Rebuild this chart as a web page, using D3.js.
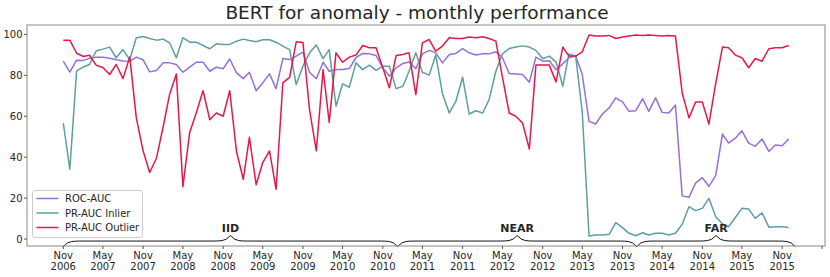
<!DOCTYPE html>
<html>
<head>
<meta charset="utf-8">
<script src="https://d3js.org/d3.v7.min.js"></script>
<style>
  body { margin: 0; background: #fff; }
  text { font-family: "DejaVu Sans", sans-serif; fill: #262626; }
</style>
</head>
<body>
<script>
"use strict";

// months run Nov 2006 .. Dec 2015
var firstMonth = new Date(2006, 10, 1),
    lastMonth = new Date(2015, 11, 1);

var rocAuc = [
  87.0, 81.6, 87.4, 87.3, 88.3, 88.9, 88.8, 88.4, 87.6, 87.0,
  86.9, 88.9, 87.6, 81.7, 82.4, 86.1, 86.1, 85.3, 81.5, 84.0,
  86.4, 86.4, 82.0, 84.0, 83.2, 88.0, 81.2, 78.4, 81.5, 72.5,
  76.3, 80.7, 73.5, 88.2, 87.7, 89.4, 91.3, 81.5, 78.3, 86.4,
  82.0, 82.8, 82.8, 83.3, 88.6, 90.7, 90.5, 89.7, 83.7, 79.6,
  83.7, 85.8, 86.5, 83.3, 90.5, 92.2, 91.0, 86.1, 90.2, 90.7,
  93.0, 91.0, 89.9, 90.5, 90.5, 91.5, 88.6, 80.9, 80.7, 80.4,
  76.6, 88.9, 86.9, 87.1, 82.8, 85.6, 88.6, 89.4, 80.4, 57.5,
  56.2, 61.1, 64.1, 69.0, 67.0, 62.4, 62.7, 68.6, 62.4, 69.0,
  61.9, 61.6, 65.5, 21.1, 20.4, 27.3, 30.0, 25.7, 31.0, 51.3,
  46.9, 49.3, 52.9, 46.9, 45.3, 48.9, 42.8, 46.0, 45.6, 48.9
];

var prAucInlier = [
  56.7, 34.2, 82.2, 84.1, 85.3, 92.0, 92.8, 93.8, 88.6, 92.6,
  87.7, 98.4, 99.0, 98.0, 97.2, 97.7, 95.9, 88.6, 98.4, 96.2,
  96.2, 94.6, 93.0, 95.4, 95.1, 95.1, 96.7, 97.7, 97.0, 96.4,
  97.4, 97.4, 96.2, 94.3, 92.6, 75.5, 84.5, 91.0, 94.8, 88.2,
  92.6, 64.9, 75.8, 74.2, 86.1, 82.8, 85.0, 82.4, 84.5, 84.5,
  73.5, 74.7, 82.0, 91.0, 81.5, 80.1, 89.9, 70.9, 61.6, 67.3,
  79.1, 61.1, 62.7, 61.6, 68.1, 82.0, 90.5, 93.1, 93.8, 94.4,
  93.8, 92.2, 88.1, 89.4, 86.6, 74.7, 90.5, 89.4, 62.0, 1.5,
  2.0, 2.0, 2.3, 8.0, 5.6, 2.8, 1.6, 3.1, 2.0, 2.8,
  2.8, 2.0, 2.8, 7.2, 15.8, 13.9, 15.0, 19.9, 10.9, 7.4,
  6.0, 10.5, 15.0, 14.7, 10.1, 12.8, 5.8, 6.0, 6.0, 5.6
];

var prAucOutlier = [
  97.2, 97.2, 90.8, 89.2, 89.8, 84.9, 83.8, 80.4, 85.3, 78.4,
  89.0, 59.2, 43.1, 32.5, 39.5, 55.0, 70.6, 80.7, 25.6, 52.1,
  61.6, 72.5, 58.3, 61.6, 60.0, 72.5, 42.8, 29.2, 49.7, 26.5,
  37.4, 43.1, 24.3, 76.3, 79.0, 96.4, 96.0, 63.2, 43.1, 82.8,
  57.0, 91.0, 86.4, 88.9, 89.9, 94.6, 93.5, 93.5, 83.7, 73.9,
  89.7, 90.2, 91.0, 70.6, 95.9, 97.5, 91.8, 94.3, 98.4, 98.0,
  98.0, 98.7, 98.4, 98.9, 98.0, 96.7, 79.1, 61.6, 60.0, 56.7,
  44.0, 85.0, 85.0, 85.0, 76.8, 93.8, 89.4, 89.4, 91.5, 99.7,
  99.2, 99.2, 99.5, 98.0, 98.7, 99.2, 99.7, 99.5, 99.7, 99.5,
  99.2, 99.5, 99.2, 71.4, 59.2, 67.0, 67.0, 56.2, 76.0, 93.8,
  93.5, 89.9, 88.6, 83.7, 88.2, 86.9, 93.0, 93.5, 93.5, 94.6
];

var seriesNames = ["ROC-AUC", "PR-AUC Inlier", "PR-AUC Outlier"];
var seriesColors = ["#9370DB", "#5F9EA0", "#E8174A"];

var yTicks = [0, 20, 40, 60, 80, 100];
var xTickLabels = [
  "Nov 2006", "May 2007", "Nov 2007", "May 2008", "Nov 2008", "May 2009",
  "Nov 2009", "May 2010", "Nov 2010", "May 2011", "Nov 2011", "May 2012",
  "Nov 2012", "May 2013", "Nov 2013", "May 2014", "Nov 2014", "May 2015",
  "Nov 2015"
];

var regions = [
  { label: "IID",  start: "2006-11-01", end: "2011-01-08" },
  { label: "NEAR", start: "2011-01-08", end: "2014-01-05" },
  { label: "FAR",  start: "2014-01-05", end: "2015-12-31" }
];

var width = 830, height = 277;
var plot = { left: 27, right: 825, top: 25, bottom: 246 };

var months = d3.timeMonth.range(firstMonth, d3.timeMonth.offset(lastMonth, 1));
var span = lastMonth - firstMonth;

var x = d3.scaleTime()
  .domain([new Date(+firstMonth - 0.05 * span), new Date(+lastMonth + 0.05 * span)])
  .range([plot.left, plot.right]);

var y = d3.scaleLinear()
  .domain([-3.4, 104.6])
  .range([plot.bottom, plot.top]);

var svg = d3.select("body").append("svg")
  .attr("width", width)
  .attr("height", height);

svg.append("text")
  .attr("x", 417)
  .attr("y", 19)
  .attr("text-anchor", "middle")
  .style("font-size", "18.5px")
  .text("BERT for anomaly - monthly performance");

// lines
var line = d3.line()
  .x(function (d, i) { return x(months[i]); })
  .y(function (d) { return y(d); });

[rocAuc, prAucInlier, prAucOutlier].forEach(function (vals, k) {
  svg.append("path")
    .datum(vals)
    .attr("fill", "none")
    .attr("stroke", seriesColors[k])
    .attr("stroke-width", 1.5)
    .attr("stroke-linejoin", "round")
    .attr("d", line);
});

// braces (sigmoid curly brace, tip up)
var ySpan = y.domain()[1] - y.domain()[0];
var braceBase = -5.3;
var xSpanAll = plot.right - plot.left;

regions.forEach(function (r) {
  var x0 = x(d3.isoParse(r.start)), x1 = x(d3.isoParse(r.end));
  var res = Math.floor((x1 - x0) / xSpanAll * 100) * 2 + 1;
  var beta = 300 / xSpanAll;
  var xs = d3.range(res).map(function (i) { return x0 + (x1 - x0) * i / (res - 1); });
  var half = xs.slice(0, Math.floor(res / 2) + 1);
  var xh0 = half[0], xh1 = half[half.length - 1];
  var yh = half.map(function (v) {
    return 1 / (1 + Math.exp(-beta * (v - xh0))) + 1 / (1 + Math.exp(-beta * (v - xh1)));
  });
  var ys = yh.concat(yh.slice(0, -1).reverse());
  var pts = xs.map(function (v, i) {
    return [v, y(braceBase + (0.05 * ys[i] - 0.01) * ySpan)];
  });
  svg.append("path")
    .attr("d", d3.line()(pts))
    .attr("fill", "none")
    .attr("stroke", "#111")
    .attr("stroke-width", 1);
  svg.append("text")
    .attr("x", (x0 + x1) / 2)
    .attr("y", y(braceBase + 0.07 * ySpan) - 2.6)
    .attr("text-anchor", "middle")
    .style("font-size", "11px")
    .style("font-weight", "bold")
    .text(r.label);
});

// frame
svg.append("rect")
  .attr("x", plot.left)
  .attr("y", plot.top)
  .attr("width", plot.right - plot.left)
  .attr("height", plot.bottom - plot.top)
  .attr("fill", "none")
  .attr("stroke", "#8a8a8a")
  .attr("stroke-width", 1);

// y axis
var yAxis = svg.append("g");
yTicks.forEach(function (t) {
  yAxis.append("line")
    .attr("x1", plot.left - 3).attr("x2", plot.left)
    .attr("y1", y(t)).attr("y2", y(t))
    .attr("stroke", "#555");
  yAxis.append("text")
    .attr("x", plot.left - 4.5)
    .attr("y", y(t) + 3.6)
    .attr("text-anchor", "end")
    .style("font-size", "10px")
    .text(t);
});

// x axis: ticks every 6 months from the first month, last one unlabelled
var xTickDates = d3.range(20).map(function (i) { return d3.timeMonth.offset(firstMonth, 6 * i); });
var xAxis = svg.append("g");
xTickDates.forEach(function (d, i) {
  var px = x(d);
  if (px > plot.right + 1) return;
  xAxis.append("line")
    .attr("x1", px).attr("x2", px)
    .attr("y1", plot.bottom).attr("y2", plot.bottom + 3)
    .attr("stroke", "#555");
  if (i < xTickLabels.length) {
    var parts = xTickLabels[i].split(" ");
    var t = xAxis.append("text")
      .attr("text-anchor", "middle")
      .style("font-size", "10px");
    t.append("tspan").attr("x", px).attr("y", 259).text(parts[0]);
    t.append("tspan").attr("x", px).attr("y", 270).text(parts[1]);
  }
});

// legend
var lg = svg.append("g").attr("transform", "translate(32.5,190.5)");
lg.append("rect")
  .attr("width", 110)
  .attr("height", 47)
  .attr("rx", 2.5)
  .attr("fill", "#fff")
  .attr("fill-opacity", 0.8)
  .attr("stroke", "#cccccc");
seriesNames.forEach(function (name, k) {
  var yy = 8 + k * 14.5;
  lg.append("line")
    .attr("x1", 4).attr("x2", 26)
    .attr("y1", yy).attr("y2", yy)
    .attr("stroke", seriesColors[k])
    .attr("stroke-width", 1.5);
  lg.append("text")
    .attr("x", 32.5)
    .attr("y", yy + 3.6)
    .style("font-size", "10px")
    .text(name);
});
</script>
</body>
</html>
